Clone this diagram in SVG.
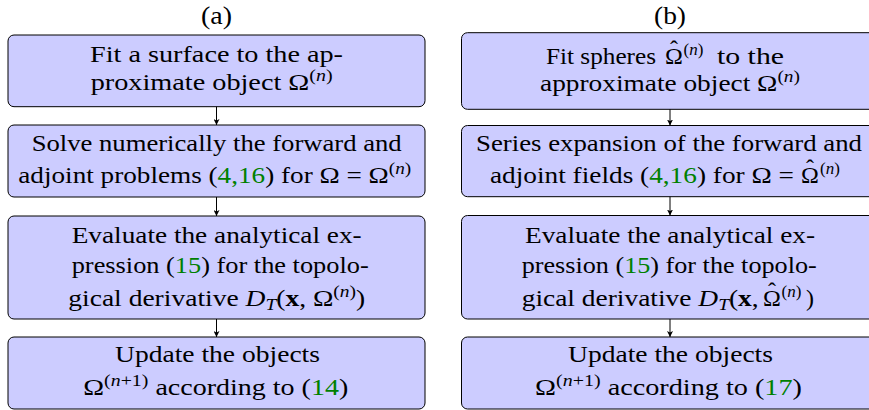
<svg xmlns="http://www.w3.org/2000/svg" width="869" height="410" viewBox="0 0 869 410">
<style>
.box{fill:#ccccff;stroke:#000;stroke-width:1}
text{font-family:'Liberation Serif','DejaVu Serif',serif;font-size:24px;fill:#000}
.g{fill:#008000}
.sup{font-size:17px}
.i{font-style:italic}
.b{font-weight:bold}
.lbl{font-size:26px}
.conn line{stroke:#000;stroke-width:1}
</style>
<defs>
<marker id="ah" viewBox="0 0 6 6" refX="6" refY="3" markerWidth="6" markerHeight="6" markerUnits="userSpaceOnUse" orient="auto">
<path d="M0,0 L6,3 L0,6 L1.5,3 Z" fill="#000"/>
</marker>
</defs>
<rect width="869" height="410" fill="#fff"/>
<text class="lbl" x="201" y="24" textLength="31" lengthAdjust="spacingAndGlyphs">(a)</text>
<text class="lbl" x="654" y="24" textLength="32" lengthAdjust="spacingAndGlyphs">(b)</text>

<g id="a1">
<rect class="box" x="8" y="35" width="417" height="71.7" rx="6"/>
<text x="90" y="61.7" textLength="253" lengthAdjust="spacingAndGlyphs">Fit a surface to the ap-</text>
<text x="90.7" y="90" textLength="242" lengthAdjust="spacingAndGlyphs">proximate object Ω<tspan class="sup" dy="-9">(<tspan class="i">n</tspan>)</tspan></text>
</g>
<g id="a2">
<rect class="box" x="8" y="125" width="417" height="72" rx="6"/>
<text x="31.7" y="150.7" textLength="370" lengthAdjust="spacingAndGlyphs">Solve numerically the forward and</text>
<text x="18.3" y="182.7" textLength="393" lengthAdjust="spacingAndGlyphs">adjoint problems (<tspan class="g">4,16</tspan>) for Ω = Ω<tspan class="sup" dy="-9">(<tspan class="i">n</tspan>)</tspan></text>
</g>
<g id="a3">
<rect class="box" x="8" y="216" width="417" height="103" rx="6"/>
<text x="71.7" y="242.7" textLength="290" lengthAdjust="spacingAndGlyphs">Evaluate the analytical ex-</text>
<text x="71.7" y="273.3" textLength="297" lengthAdjust="spacingAndGlyphs">pression (<tspan class="g">15</tspan>) for the topolo-</text>
<text x="68.3" y="306" textLength="297" lengthAdjust="spacingAndGlyphs">gical derivative <tspan class="i">D</tspan><tspan class="sup i" dy="4">T</tspan><tspan dy="-4">(</tspan><tspan class="b">x</tspan>, Ω<tspan class="sup" dy="-9">(<tspan class="i">n</tspan>)</tspan><tspan dy="9">)</tspan></text>
</g>
<g id="a4">
<rect class="box" x="8" y="337" width="417" height="72" rx="6"/>
<text x="115" y="361.7" textLength="205" lengthAdjust="spacingAndGlyphs">Update the objects</text>
<text x="83.3" y="395" textLength="265" lengthAdjust="spacingAndGlyphs">Ω<tspan class="sup" dy="-9">(<tspan class="i">n</tspan>+1)</tspan><tspan dy="9"> according to (</tspan><tspan class="g">14</tspan>)</text>
</g>

<g id="b1">
<rect class="box" x="461.5" y="32.7" width="420" height="76.6" rx="6"/>
<text x="546" y="64.3" textLength="110" lengthAdjust="spacingAndGlyphs">Fit spheres</text>
<text y="64.3"><tspan x="665">Ω</tspan><tspan x="674" y="57.3" text-anchor="middle">ˆ</tspan><tspan class="sup" x="683.5" y="55.3">(<tspan class="i">n</tspan>)</tspan></text>
<text x="717" y="64.3" textLength="67" lengthAdjust="spacingAndGlyphs">to the</text>
<text x="540" y="91" textLength="260" lengthAdjust="spacingAndGlyphs">approximate object Ω<tspan class="sup" dy="-9">(<tspan class="i">n</tspan>)</tspan></text>
</g>
<g id="b2">
<rect class="box" x="461.5" y="125.5" width="420" height="71.2" rx="6"/>
<text x="476" y="150.7" textLength="386" lengthAdjust="spacingAndGlyphs">Series expansion of the forward and</text>
<text x="490" y="183.3" textLength="304" lengthAdjust="spacingAndGlyphs">adjoint fields (<tspan class="g">4,16</tspan>) for Ω =</text>
<text y="183.3"><tspan x="801">Ω</tspan><tspan x="810" y="176.3" text-anchor="middle">ˆ</tspan><tspan class="sup" x="820" y="174.3">(<tspan class="i">n</tspan>)</tspan></text>
</g>
<g id="b3">
<rect class="box" x="461.5" y="215.5" width="420" height="103.5" rx="6"/>
<text x="525" y="242.7" textLength="290" lengthAdjust="spacingAndGlyphs">Evaluate the analytical ex-</text>
<text x="521.7" y="273.3" textLength="295" lengthAdjust="spacingAndGlyphs">pression (<tspan class="g">15</tspan>) for the topolo-</text>
<text x="521.7" y="306" textLength="237" lengthAdjust="spacingAndGlyphs">gical derivative <tspan class="i">D</tspan><tspan class="sup i" dy="4">T</tspan><tspan dy="-4">(</tspan><tspan class="b">x</tspan>,</text>
<text y="306"><tspan x="763">Ω</tspan><tspan x="772" y="299" text-anchor="middle">ˆ</tspan><tspan class="sup" x="781.5" y="297">(<tspan class="i">n</tspan>)</tspan><tspan x="806" y="306">)</tspan></text>
</g>
<g id="b4">
<rect class="box" x="461.5" y="337" width="420" height="72" rx="6"/>
<text x="568" y="361.7" textLength="205" lengthAdjust="spacingAndGlyphs">Update the objects</text>
<text x="535" y="395" textLength="267" lengthAdjust="spacingAndGlyphs">Ω<tspan class="sup" dy="-9">(<tspan class="i">n</tspan>+1)</tspan><tspan dy="9"> according to (</tspan><tspan class="g">17</tspan>)</text>
</g>

<g id="connectors" class="conn">
<line x1="216.5" y1="106.7" x2="216.5" y2="125" marker-end="url(#ah)"/>
<line x1="216.5" y1="197" x2="216.5" y2="216" marker-end="url(#ah)"/>
<line x1="216.5" y1="319" x2="216.5" y2="337" marker-end="url(#ah)"/>
<line x1="670" y1="109.3" x2="670" y2="125.5" marker-end="url(#ah)"/>
<line x1="670" y1="196.7" x2="670" y2="215.5" marker-end="url(#ah)"/>
<line x1="670" y1="319" x2="670" y2="337" marker-end="url(#ah)"/>
</g>
</svg>
